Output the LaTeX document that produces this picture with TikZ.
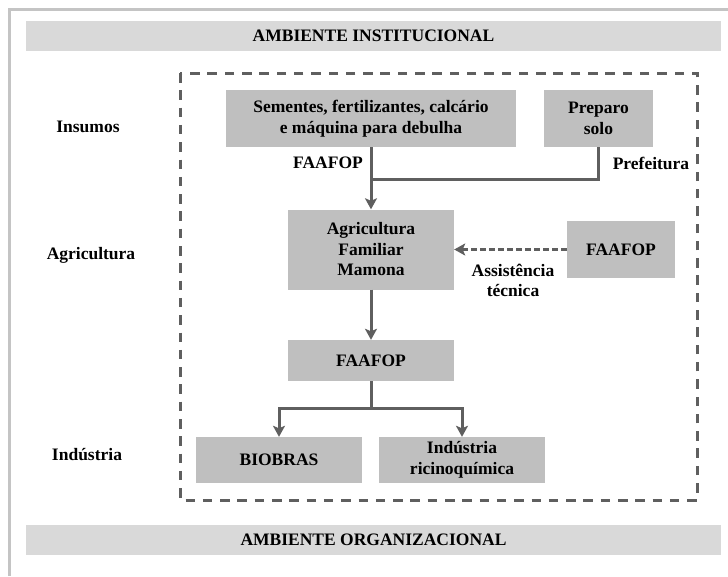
\documentclass[tikz,border=0pt]{standalone}
\usepackage{fontspec}
\setmainfont{Liberation Serif}
\usetikzlibrary{arrows.meta}

\definecolor{boxgray}{HTML}{BFBFBF}
\definecolor{bannergray}{HTML}{D9D9D9}
\definecolor{linegray}{HTML}{5F5F5F}
\definecolor{framegray}{HTML}{C4C4C4}

\tikzset{
  rotulo/.style={font=\bfseries\fontsize{17.5}{20.5}\selectfont, align=center, inner sep=0pt},
  caixa/.style={rotulo, fill=boxgray},
  faixa/.style={rotulo, fill=bannergray, minimum width=695pt, minimum height=30pt},
  fio/.style={draw=linegray, line width=3pt},
  liga/.style={fio, -{Stealth[length=11pt,width=12pt,inset=2.5pt]}},
}

\begin{document}
\begin{tikzpicture}[x=1pt,y=-1pt]
    \useasboundingbox (0,0) rectangle (728,576);
    \draw[framegray, line width=3pt] (9,576) -- (9,9) -- (728,9);
    \node[faixa] (inst) at (373.5,35.5) {AMBIENTE INSTITUCIONAL};
    \node[faixa] (org) at (373.5,540) {AMBIENTE ORGANIZACIONAL};
    \draw[linegray, line width=3pt, dash pattern=on 9.5pt off 7.8pt] (180,73) rectangle (697,500);

    \node[rotulo] (insumos) at (88,127) {Insumos};
    \node[rotulo] (agric) at (91,255) {Agricultura};
    \node[rotulo] (indus) at (87,455) {Indústria};

    \node[caixa, minimum width=290pt, minimum height=57pt] (sem) at (371,118.5) {Sementes, fertilizantes, calcário\\e máquina para debulha};
    \node[caixa, minimum width=109pt, minimum height=57pt] (prep) at (598.5,118.5) {Preparo\\solo};
    \node[caixa, minimum width=166pt, minimum height=80pt] (agf) at (371,249.5) {Agricultura\\Familiar\\Mamona};
    \node[caixa, minimum width=108pt, minimum height=57pt] (fat) at (621,249.5) {FAAFOP};
    \node[caixa, minimum width=166pt, minimum height=41pt] (fmid) at (371,360.5) {FAAFOP};
    \node[caixa, minimum width=166pt, minimum height=46pt] (bio) at (279,460) {BIOBRAS};
    \node[caixa, minimum width=166pt, minimum height=46pt] (ric) at (462,460) {Indústria\\ricinoquímica};

    \node[rotulo] (lfa) at (328,163) {FAAFOP};
    \node[rotulo] (lpre) at (651,163) {Prefeitura};
    \node[rotulo] (lass) at (513,280.5) {Assistência\\técnica};

    \coordinate (jn) at (371,179);
    \coordinate (sp) at (371,408);
    \draw[liga] (sem) -- (agf);
    \draw[fio] (prep) |- (jn);
    \draw[liga, dash pattern=on 6pt off 3pt] (fat) -- (agf);
    \draw[liga] (agf) -- (fmid);
    \draw[fio] (fmid) -- (sp);
    \draw[liga] (sp) -| (bio);
    \draw[liga] (sp) -| (ric);
\end{tikzpicture}
\end{document}
